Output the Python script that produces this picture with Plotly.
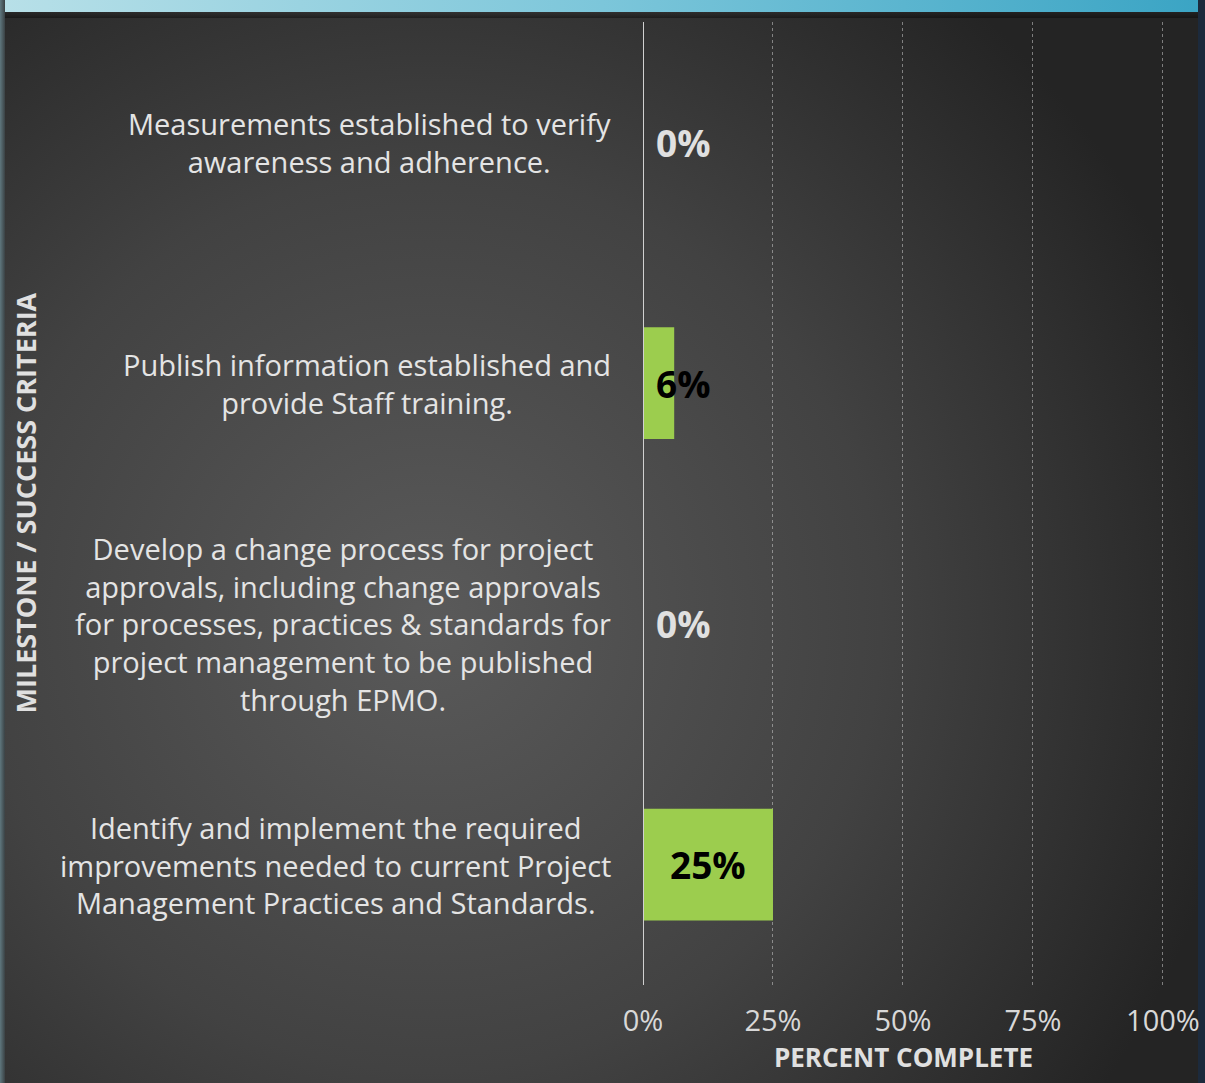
import base64
import plotly.graph_objects as go

categories = [
    "Identify and implement the required<br>improvements needed to current Project<br>Management Practices and Standards.",
    "Develop a change process for project<br>approvals, including change approvals<br>for processes, practices & standards for<br>project management to be published<br>through EPMO.",
    "Publish information established and<br>provide Staff training.",
    "Measurements established to verify<br>awareness and adherence.",
]
values = [25, 0, 6, 0]
x_ticks = [0, 25, 50, 75, 100]
x_tick_labels = ["0%", "25%", "50%", "75%", "100%"]

W, H = 1205, 1083
L, R, T, B = 643, 41, 22, 98
pw, ph = W - L - R, H - T - B
x_max = 100.2

svg = f"""<svg xmlns='http://www.w3.org/2000/svg' width='{W}' height='{H}' viewBox='0 0 {W} {H}' preserveAspectRatio='none'>
<defs>
<radialGradient id='g' gradientUnits='userSpaceOnUse' cx='430' cy='620' r='820'>
<stop offset='0' stop-color='#5a5a5a'/><stop offset='0.55' stop-color='#424242'/><stop offset='1' stop-color='#242424'/>
</radialGradient>
<linearGradient id='t' x1='0' x2='1' y1='0' y2='0'>
<stop offset='0' stop-color='#b8e0e8'/><stop offset='0.5' stop-color='#7cc6da'/><stop offset='1' stop-color='#3aa4c4'/>
</linearGradient>
<linearGradient id='tf' x1='0' x2='0' y1='0' y2='1'>
<stop offset='0' stop-color='#000' stop-opacity='0.05'/><stop offset='1' stop-color='#000' stop-opacity='0.4'/>
</linearGradient>
<linearGradient id='l' x1='0' x2='1'>
<stop offset='0' stop-color='#5f777e'/><stop offset='1' stop-color='#3a4144'/>
</linearGradient>
</defs>
<rect width='{W}' height='{H}' fill='url(#g)'/>
<rect width='{W}' height='12' fill='url(#t)'/>
<rect y='12' width='{W}' height='6' fill='url(#tf)'/>
<rect width='5' height='{H}' fill='url(#l)'/>
<rect x='1198' width='7' height='{H}' fill='#1c2a3c'/>
</svg>"""
src = "data:image/svg+xml;base64," + base64.b64encode(svg.encode()).decode()

font_family = "Open Sans, Lato, sans-serif"

fig = go.Figure()
fig.add_trace(go.Bar(
    y=list(range(len(categories))),
    x=values,
    orientation="h",
    width=0.465,
    marker=dict(color="#9ccd4e", line=dict(width=0)),
    hoverinfo="skip",
))

# category labels (centered multi-line text)
for i, c in enumerate(categories):
    fig.add_annotation(
        x=0, xref="paper", y=i, yref="y",
        text=c, showarrow=False, xanchor="right", yanchor="middle",
        xshift=-30, align="center",
        font=dict(family=font_family, size=29, color="#e4e4e4"),
    )

# value labels
for i, v in enumerate(values):
    fig.add_annotation(
        x=max(v / 2, 7.8), xref="x", y=i, yref="y",
        text=f"<b>{v}%</b>", showarrow=False, xanchor="center", yanchor="middle",
        font=dict(family=font_family, size=37, color="#000000" if v > 0 else "#e0e0e0"),
    )

# y-axis title
fig.add_annotation(
    x=0, xref="paper", y=0.5, yref="paper",
    text="<b>MILESTONE / SUCCESS CRITERIA</b>", textangle=-90, showarrow=False,
    xanchor="center", yanchor="middle", xshift=-(L - 25),
    font=dict(family=font_family, size=27, color="#e0e0e0"),
)

fig.update_layout(
    width=W, height=H,
    margin=dict(l=L, r=R, t=T, b=B, pad=0, autoexpand=False),
    paper_bgcolor="#3a3a3a",
    plot_bgcolor="rgba(0,0,0,0)",
    showlegend=False,
    images=[dict(
        source=src, xref="paper", yref="paper",
        x=-L / pw, y=1 + T / ph, sizex=W / pw, sizey=H / ph,
        xanchor="left", yanchor="top", sizing="stretch", layer="below",
    )],
    xaxis=dict(
        range=[0, x_max], tickvals=x_ticks, ticktext=x_tick_labels, automargin=False,
        showgrid=True, gridcolor="rgba(200,200,200,0.55)", griddash="dot", gridwidth=1,
        zeroline=False, showline=False, ticks="", ticklabelstandoff=16,
        tickfont=dict(family=font_family, size=29, color="#d8d8d8"),
        title=dict(text="<b>PERCENT COMPLETE</b>", standoff=4,
                   font=dict(family=font_family, size=26, color="#e0e0e0")),
        fixedrange=True,
    ),
    yaxis=dict(
        range=[-0.5, len(categories) - 0.5], showticklabels=False, automargin=False,
        showgrid=False, zeroline=False, showline=False, ticks="", fixedrange=True,
    ),
    shapes=[dict(type="line", xref="x", yref="paper", x0=0, x1=0, y0=0, y1=1,
                 line=dict(color="#d0d0d0", width=2))],
)

fig.write_html("out.html")
